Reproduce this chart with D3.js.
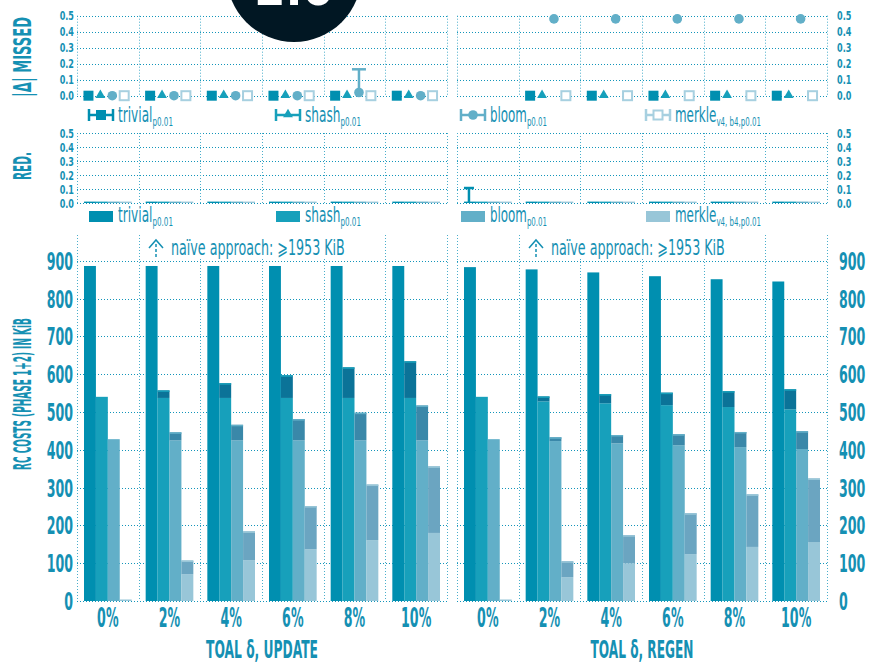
<!doctype html>
<html>
<head>
<meta charset="utf-8">
<title>RC costs</title>
<script src="https://d3js.org/d3.v7.min.js"></script>
<style>
  body { margin: 0; background: #fff; }
  svg { display: block; }
  text { font-family: 'Liberation Sans Narrow', 'DejaVu Sans Condensed', 'Liberation Sans', sans-serif; fill: #1590b3; font-weight: bold; }
  .hgrid { stroke: #1295ba; stroke-width: 1; stroke-dasharray: 1,2; fill: none; }
  .vgrid { stroke: #4aaecb; stroke-width: 1; stroke-dasharray: 1,2; fill: none; }
</style>
</head>
<body>
<script>
// ---- data ----
var categories = ['0%', '2%', '4%', '6%', '8%', '10%'];
var series = ['trivial', 'shash', 'bloom', 'merkle'];
var legendSubs = ['p0.01', 'p0.01', 'p0.01', 'v4, b4,p0.01'];
var panelNames = ['UPDATE', 'REGEN'];
var missedTicks = [0, 0.1, 0.2, 0.3, 0.4, 0.5];
var costTicks = [0, 100, 200, 300, 400, 500, 600, 700, 800, 900];

// |Δ| missed
var missedUpdTrivial = [0, 0, 0, 0, 0, 0];
var missedUpdShash   = [0, 0, 0, 0, 0, 0];
var missedUpdBloom   = [0, 0, 0, 0, 0.02, 0];
var missedUpdBloomHi = [null, null, null, null, 0.165, null];
var missedUpdMerkle  = [0, 0, 0, 0, 0, 0];
var missedRegTrivial = [null, 0, 0, 0, 0, 0];
var missedRegShash   = [null, 0, 0, 0, 0, 0];
var missedRegBloom   = [null, 0.48, 0.48, 0.48, 0.48, 0.48];
var missedRegMerkle  = [null, 0, 0, 0, 0, 0];

// redundancy
var redUpdTrivial = [0.01, 0.01, 0.01, 0.01, 0.01, 0.01];
var redUpdShash   = [0.01, 0.01, 0.01, 0.01, 0.01, 0.01];
var redUpdBloom   = [0.01, 0.01, 0.01, 0.01, 0.01, 0.01];
var redUpdMerkle  = [0.01, 0.01, 0.01, 0.01, 0.01, 0.01];
var redRegTrivial = [0.01, 0.01, 0.01, 0.01, 0.01, 0.01];
var redRegTrivialHi = [0.107, null, null, null, null, null];
var redRegShash   = [0.01, 0.01, 0.01, 0.01, 0.01, 0.01];
var redRegBloom   = [0.01, 0.01, 0.01, 0.01, 0.01, 0.01];
var redRegMerkle  = [0.01, 0.01, 0.01, 0.01, 0.01, 0.01];

// RC costs (phase 1 = base, total = phase 1+2), KiB
var costUpdTrivial      = [886, 886, 886, 886, 886, 886];
var costUpdShash        = [540, 537, 537, 537, 537, 537];
var costUpdShashTotal   = [540, 557, 576, 597, 618, 634];
var costUpdBloom        = [428, 425, 425, 425, 425, 425];
var costUpdBloomTotal   = [428, 446, 466, 481, 498, 517];
var costUpdMerkle       = [4, 71, 108, 137, 161, 180];
var costUpdMerkleTotal  = [4, 107, 184, 251, 308, 356];
var costRegTrivial      = [883, 877, 869, 859, 851, 845];
var costRegShash        = [540, 528, 523, 518, 513, 507];
var costRegShashTotal   = [540, 541, 547, 551, 555, 560];
var costRegBloom        = [428, 423, 417, 412, 407, 402];
var costRegBloomTotal   = [428, 433, 439, 441, 447, 449];
var costRegMerkle       = [4, 63, 100, 124, 143, 156];
var costRegMerkleTotal  = [4, 105, 174, 232, 282, 324];
var naive = 1953;

// tables for drawing
var panels = [
  { x0: 77, x1: 447, name: panelNames[0],
    missed: [missedUpdTrivial, missedUpdShash, missedUpdBloom, missedUpdMerkle],
    missedHi: [null, null, missedUpdBloomHi, null],
    red: [redUpdTrivial, redUpdShash, redUpdBloom, redUpdMerkle],
    redHi: [null, null, null, null],
    base: [costUpdTrivial, costUpdShash, costUpdBloom, costUpdMerkle],
    total: [costUpdTrivial, costUpdShashTotal, costUpdBloomTotal, costUpdMerkleTotal] },
  { x0: 457, x1: 827, name: panelNames[1],
    missed: [missedRegTrivial, missedRegShash, missedRegBloom, missedRegMerkle],
    missedHi: [null, null, null, null],
    red: [redRegTrivial, redRegShash, redRegBloom, redRegMerkle],
    redHi: [redRegTrivialHi, null, null, null],
    base: [costRegTrivial, costRegShash, costRegBloom, costRegMerkle],
    total: [costRegTrivial, costRegShashTotal, costRegBloomTotal, costRegMerkleTotal] }
];

var color = { trivial: '#008fb0', shash: '#17a0bb', bloom: '#62afc8', merkle: '#98c6d8' };
var colorUp = { trivial: '#006f92', shash: '#0b7398', bloom: '#3a88a9', merkle: '#6ba5c1' };
var ink = '#1590b3';

var svg = d3.select('body').append('svg').attr('width', 877).attr('height', 664);

var yMiss = d3.scaleLinear().domain([0, 0.5]).range([95.7, 15.7]);
var yRed = d3.scaleLinear().domain([0, 0.5]).range([203, 133]);
var yCost = d3.scaleLinear().domain([0, 900]).range([601, 260.7]);

// text squeezed horizontally by a fixed factor
function txt(g, x, y, s, size, anchor, sx) {
  return g.append('text')
    .attr('transform', 'translate(' + x + ',' + y + ') scale(' + (sx || 1) + ',1)')
    .attr('text-anchor', anchor || 'start')
    .style('font-size', size + 'px')
    .text(s);
}

// text squeezed to a given width
function fit(t, x, y, width, rot) {
  var w = t.node().getComputedTextLength();
  t.attr('transform', 'translate(' + x + ',' + y + ')' + (rot ? ' rotate(' + rot + ')' : '') +
    ' scale(' + (width / w) + ',1)');
  return t;
}

function grid(p, xb, y, ticks, topY) {
  var g = svg.append('g');
  g.selectAll('.h').data(ticks).enter().append('line')
    .attr('class', 'hgrid')
    .attr('x1', p.x0).attr('x2', p.x1)
    .attr('y1', function(d) { return Math.round(y(d)) + 0.5; })
    .attr('y2', function(d) { return Math.round(y(d)) + 0.5; });
  var xs = categories.map(function(c) { return xb(c); }).concat([p.x1]);
  g.selectAll('.v').data(xs).enter().append('line')
    .attr('class', 'vgrid')
    .attr('x1', function(d) { return Math.round(d) + 0.5; })
    .attr('x2', function(d) { return Math.round(d) + 0.5; })
    .attr('y1', topY).attr('y2', y(0));
}

function errBar(g, x, y0, y1, col, w) {
  g.append('line').attr('x1', x).attr('x2', x).attr('y1', y0).attr('y2', y1)
    .attr('stroke', col).attr('stroke-width', 2.5);
  g.append('line').attr('x1', x - w / 2).attr('x2', x + w / 2).attr('y1', y1).attr('y2', y1)
    .attr('stroke', col).attr('stroke-width', 2.5);
}

function marker(g, s, x, y) {
  if (s === 'trivial') {
    g.append('rect').attr('x', x - 5).attr('y', y - 5).attr('width', 10).attr('height', 10).attr('fill', color.trivial);
  } else if (s === 'shash') {
    g.append('path').attr('d', d3.symbol().type(d3.symbolTriangle).size(42)())
      .attr('transform', 'translate(' + x + ',' + (y - 0.5) + ')').attr('fill', color.shash);
  } else if (s === 'bloom') {
    g.append('circle').attr('cx', x).attr('cy', y).attr('r', 4.8).attr('fill', color.bloom);
  } else {
    g.append('rect').attr('x', x - 4.5).attr('y', y - 4.5).attr('width', 9).attr('height', 9)
      .attr('fill', '#fff').attr('stroke', '#a7d0e0').attr('stroke-width', 2);
  }
}

panels.forEach(function(p, pi) {
  var xb = d3.scaleBand().domain(categories).range([p.x0, p.x1]);
  var bw = xb.bandwidth();
  var sub = d3.scaleBand().domain(series).range([7, bw - 7]);
  var sw = sub.bandwidth();

  grid(p, xb, yMiss, missedTicks, yMiss(0.5));
  grid(p, xb, yRed, missedTicks, yRed(0.5));
  grid(p, xb, yCost, costTicks, 235);

  // |Δ| missed markers
  var gm = svg.append('g');
  series.forEach(function(s, si) {
    categories.forEach(function(c, ci) {
      var v = p.missed[si][ci];
      if (v === null) return;
      var cx = xb(c) + sub(s) + sw / 2 - 1.5;
      var hi = p.missedHi[si] ? p.missedHi[si][ci] : null;
      if (hi !== null) errBar(gm, cx, yMiss(v), yMiss(hi), color[s], 14);
      marker(gm, s, cx, yMiss(v));
    });
  });

  // redundancy bars
  var gr = svg.append('g');
  series.forEach(function(s, si) {
    categories.forEach(function(c, ci) {
      var v = p.red[si][ci];
      var x = xb(c) + sub(s);
      gr.append('rect').attr('x', x).attr('width', sw)
        .attr('y', yRed(v)).attr('height', yRed(0) - yRed(v)).attr('fill', color[s]);
      var hi = p.redHi[si] ? p.redHi[si][ci] : null;
      if (hi !== null) errBar(gr, x + sw / 2 - 1, yRed(0), yRed(hi), color[s], 10);
    });
  });

  // cost bars
  var gc = svg.append('g');
  series.forEach(function(s, si) {
    categories.forEach(function(c, ci) {
      var b = p.base[si][ci], t = p.total[si][ci];
      var x = xb(c) + sub(s);
      gc.append('rect').attr('x', x).attr('width', sw)
        .attr('y', yCost(b)).attr('height', yCost(0) - yCost(b)).attr('fill', color[s]);
      if (t > b) {
        gc.append('rect').attr('x', x).attr('width', sw)
          .attr('y', yCost(t)).attr('height', yCost(b) - yCost(t)).attr('fill', colorUp[s]);
        gc.append('rect').attr('x', x).attr('width', sw)
          .attr('y', yCost(t)).attr('height', 1.5).attr('fill', color[s]);
      }
    });
  });

  // naive annotation
  var ga = svg.append('g');
  var ax = p.x0 + 79;
  ga.append('rect').attr('x', ax - 8).attr('y', 234).attr('width', 200).attr('height', 24).attr('fill', '#fff');
  ga.append('line').attr('x1', ax).attr('x2', ax).attr('y1', 257).attr('y2', 242)
    .attr('stroke', ink).attr('stroke-width', 1.5).attr('stroke-dasharray', '3,2');
  ga.append('path').attr('d', 'M' + (ax - 7) + ',248 L' + ax + ',240 L' + (ax + 7) + ',248')
    .attr('fill', 'none').attr('stroke', ink).attr('stroke-width', 1.5);
  fit(ga.append('text').style('font-size', '21px').style('font-weight', 'normal')
      .text('naïve approach: \u2A7E' + naive + ' KiB'), ax + 15, 255, 174);

  // x tick labels
  categories.forEach(function(c) {
    txt(svg, xb(c) + bw / 2, 627, c, 27, 'middle', 0.52);
  });
  fit(svg.append('text').attr('text-anchor', 'middle').style('font-size', '25px').text('TOAL \u03B4, ' + p.name),
    (p.x0 + p.x1) / 2, 658, pi ? 103 : 112);
});

// y tick labels, left and right
missedTicks.forEach(function(t) {
  [yMiss, yRed].forEach(function(y) {
    txt(svg, 74, y(t) + 4.5, d3.format('.1f')(t), 12.5, 'end', 0.72);
    txt(svg, 837, y(t) + 4.5, d3.format('.1f')(t), 12.5, 'start', 0.72);
  });
});
costTicks.forEach(function(t) {
  txt(svg, 73, yCost(t) + 9, t, 25, 'end', 0.56);
  txt(svg, 839, yCost(t) + 9, t, 25, 'start', 0.56);
});

// y titles
function ytitle(s, cy, len) {
  fit(svg.append('text').attr('text-anchor', 'middle').style('font-size', '25px').text(s), 31, cy, len, -90);
}
ytitle('|\u0394| MISSED', 57, 80);
ytitle('RED.', 166, 28);
ytitle('RC COSTS (PHASE 1+2) IN KiB', 394, 152);

// legends
var legX = [88, 275, 460, 645];
var legW = [55, 56, 57, 86];
var gl = svg.append('g');
function legText(x, y, i, s) {
  var t = gl.append('text').style('font-size', '22px').style('font-weight', 'normal');
  t.append('tspan').text(s);
  t.append('tspan').attr('dy', 4).style('font-size', '13px').text(legendSubs[i]);
  fit(t, x, y, legW[i]);
}
series.forEach(function(s, i) {
  var x = legX[i], y = 115;
  var lc = s === 'merkle' ? '#a7d0e0' : color[s];
  gl.append('line').attr('x1', x + 1).attr('x2', x + 25).attr('y1', y).attr('y2', y).attr('stroke', lc).attr('stroke-width', 2.5);
  gl.append('line').attr('x1', x + 1).attr('x2', x + 1).attr('y1', y - 6).attr('y2', y + 6).attr('stroke', lc).attr('stroke-width', 2.5);
  gl.append('line').attr('x1', x + 25).attr('x2', x + 25).attr('y1', y - 6).attr('y2', y + 6).attr('stroke', lc).attr('stroke-width', 2.5);
  marker(gl, s, x + 13, y);
  legText(x + 30, y + 7, i, s);

  var y2 = 216;
  gl.append('rect').attr('x', x + 1).attr('y', y2 - 5).attr('width', 24).attr('height', 11).attr('fill', color[s]);
  legText(x + 30, y2 + 6, i, s);
});

// badge
svg.append('circle').attr('cx', 294).attr('cy', -25.5).attr('r', 67.5).attr('fill', '#011723');
svg.append('text').attr('x', 294).attr('y', 5).attr('text-anchor', 'middle')
  .style('font-size', '50px').style('fill', '#fff').text('2.0');
</script>
</body>
</html>
